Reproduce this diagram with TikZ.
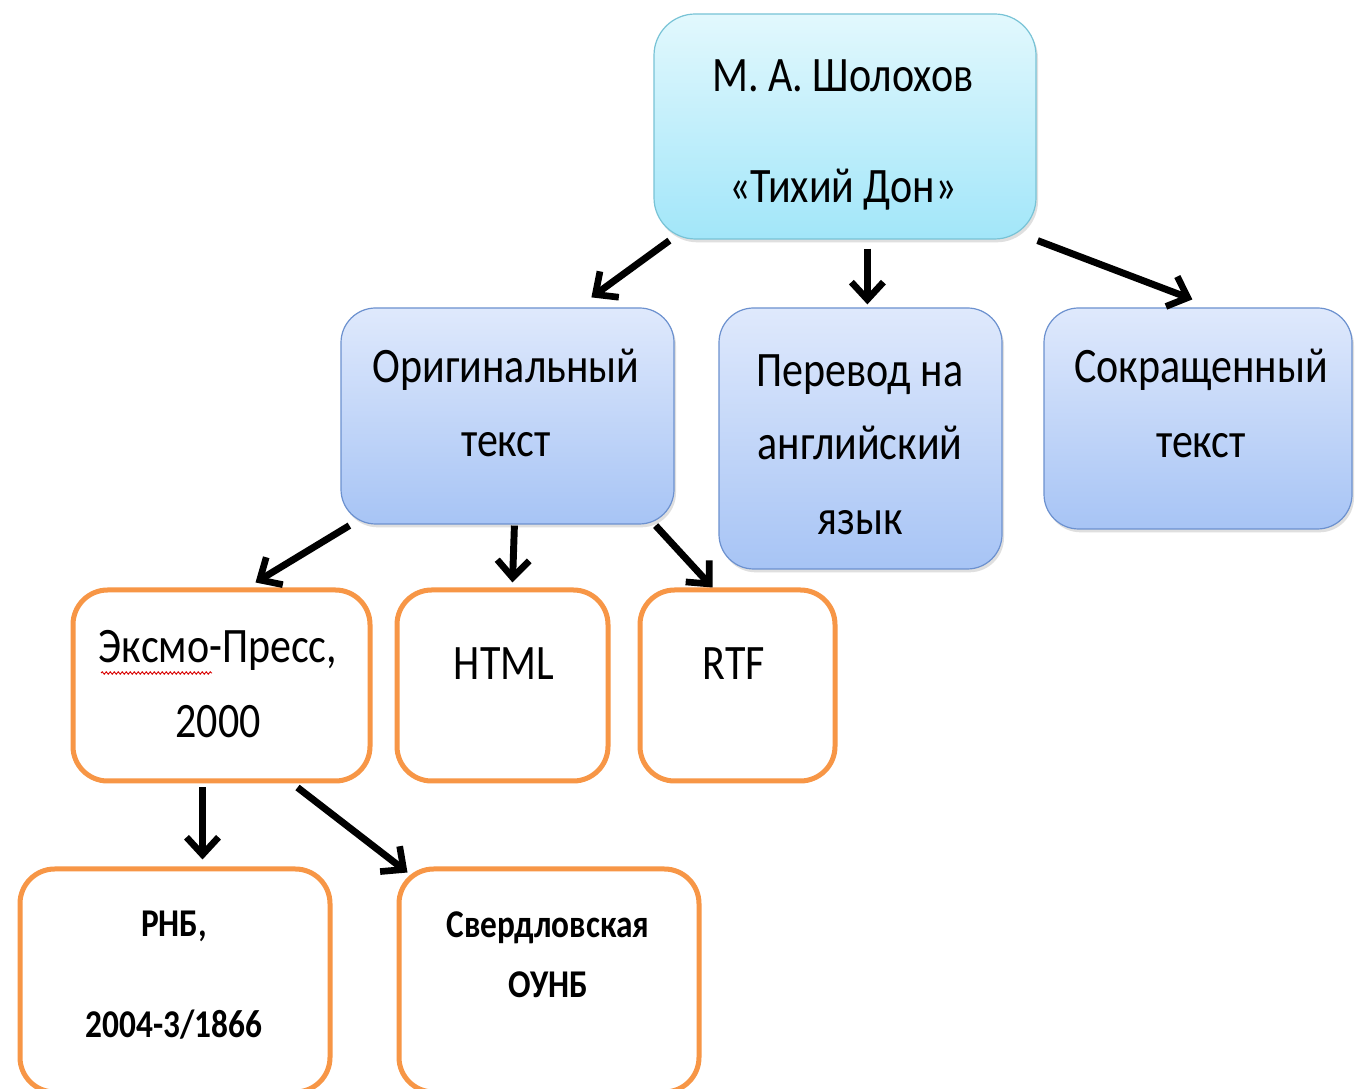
\documentclass[tikz,border=0pt]{standalone}
\usepackage{fontspec}
\usepackage{graphicx}
\setmainfont{Carlito}
\usetikzlibrary{arrows.meta,shadows,fit,calc,decorations.pathmorphing}
\definecolor{cyanA}{HTML}{E2F8FD}
\definecolor{cyanB}{HTML}{A2E6F9}
\definecolor{cyanL}{HTML}{78C3D6}
\definecolor{blueA}{HTML}{DFE9FC}
\definecolor{blueB}{HTML}{A7C4F5}
\definecolor{blueL}{HTML}{6C91CF}
\definecolor{orangeL}{HTML}{F79646}
\newcommand{\stl}[1]{\scalebox{1}[1.18]{#1}}
\begin{document}
\begin{tikzpicture}[x=0.75pt,y=0.75pt,
  shd/.style={drop shadow={shadow xshift=1.5pt,shadow yshift=-2.5pt,opacity=0.25}},
  topbox/.style={rounded corners=31pt,inner sep=0pt,line width=0.9pt,draw=cyanL,top color=cyanA,bottom color=cyanB,shd},
  bluebox/.style={rounded corners=26pt,inner sep=0pt,line width=0.9pt,draw=blueL,top color=blueA,bottom color=blueB,shd},
  orbox/.style={rounded corners=26pt,inner sep=0pt,line width=3.75pt,draw=orangeL,fill=white},
  txt/.style={font=\fontsize{31.5}{36}\selectfont,inner sep=0pt,anchor=base},
  stxt/.style={font=\fontsize{25}{30}\selectfont\bfseries,inner sep=0pt,anchor=base},
  arr/.style={line width=5.2pt,black,-{Straight Barb[length=13pt,width=24pt,line width=5pt]}}
]
\useasboundingbox (0,0) rectangle (1355,1088);
\fill[white] (0,0) rectangle (1355,1088);

% boxes
\node[topbox,fit={(654,849)(1036,1074)}] (top) {};
\node[bluebox,fit={(341,564)(674,780)}] (orig) {};
\node[bluebox,fit={(719,519)(1002,780)}] (trans) {};
\node[bluebox,fit={(1044,559)(1352,780)}] (abr) {};
\node[orbox,fit={(73,307)(370,498)}] (eksmo) {};
\node[orbox,fit={(397,307)(608,498)}] (html) {};
\node[orbox,fit={(640,307)(835,498)}] (rtf) {};
\node[orbox,fit={(20,-4)(330,219)}] (rnb) {};
\node[orbox,fit={(399,-4)(699,219)}] (sverd) {};

% texts
\node[txt] (t1) at (843,996) {\stl{М. А. Шолохов}};
\node[txt] (t2) at (843,885) {\stl{«Тихий Дон»}};
\node[txt] (o1) at (506,705) {\stl{Оригинальный}};
\node[txt] (o2) at (506,631) {\stl{текст}};
\node[txt] (p1) at (860,701) {\stl{Перевод на}};
\node[txt] (p2) at (860,628) {\stl{английский}};
\node[txt] (p3) at (860,553) {\stl{язык}};
\node[txt] (s1) at (1201,705) {\stl{Сокращенный}};
\node[txt] (s2) at (1201,630) {\stl{текст}};
\node[txt] (e1) at (218,425) {\stl{Эксмо-Пресс,}};
\node[txt] (e2) at (218,350) {\stl{2000}};
\node[txt] (h1) at (504,408) {\stl{HTML}};
\node[txt] (r1) at (734,408) {\stl{RTF}};
\node[stxt] (n1) at (174,151) {\stl{РНБ,}};
\node[stxt] (n2) at (174,51) {\stl{2004-3/1866}};
\node[stxt] (v1) at (548,150) {\stl{Свердловская}};
\node[stxt] (v2) at (548,90) {\stl{ОУНБ}};

% spell-check underline
\draw[red!85!black,line width=0.7pt,decorate,decoration={snake,amplitude=0.9pt,segment length=3pt}] (101,415) -- (212,415);

% arrows
\draw[arr] ($(top.south west)+(16,-1)$) -- ($(orig.north west)+(251,10)$);
\draw[arr] ($(top.south west)+(214,-9)$) -- ($(trans.north west)+(149,3)$);
\draw[arr] ($(top.south east)+(1,-1)$) -- ($(abr.north west)+(149,8)$);
\draw[arr] ($(orig.south west)+(9,-1)$) -- ($(eksmo.north west)+(185,5)$);
\draw[arr] ($(orig.south west)+(174,-1)$) -- ($(html.north west)+(118,5)$);
\draw[arr] ($(orig.south east)+(-19,-1)$) -- ($(rtf.north west)+(75,0)$);
\draw[arr] ($(eksmo.south west)+(132,-4)$) -- ($(rnb.north west)+(185,7)$);
\draw[arr] ($(eksmo.south west)+(227,-4)$) -- ($(sverd.north west)+(11,-6)$);
\end{tikzpicture}
\end{document}
